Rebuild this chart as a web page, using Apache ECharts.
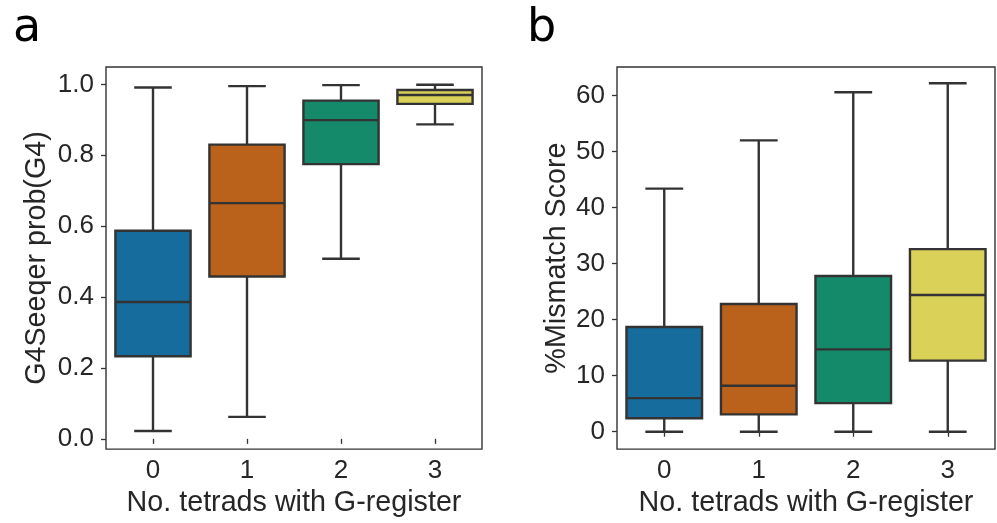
<!DOCTYPE html>
<html>
<head>
<meta charset="utf-8">
<script src="https://cdn.jsdelivr.net/npm/echarts@6/dist/echarts.min.js"></script>
<style>
  html, body { margin: 0; padding: 0; background: #fff; }
  #main { width: 997px; height: 523px; }
</style>
</head>
<body>
<div id="main"></div>
<script>
// categories and box stats: [min, Q1, median, Q3, max]
var categories = ['0', '1', '2', '3'];
var probStats = [
  [0.022, 0.233, 0.386, 0.587, 0.991],
  [0.062, 0.458, 0.665, 0.830, 0.995],
  [0.508, 0.775, 0.899, 0.954, 0.998],
  [0.887, 0.945, 0.970, 0.984, 0.999]
];
var mismatchStats = [
  [0, 2.4, 6.0, 18.7, 43.4],
  [0, 3.1, 8.2, 22.8, 52.0],
  [0, 5.1, 14.7, 27.8, 60.6],
  [0, 12.7, 24.4, 32.6, 62.2]
];
var probTicks = [0, 0.2, 0.4, 0.6, 0.8, 1.0];
var mismatchTicks = [0, 10, 20, 30, 40, 50, 60];
var boxColors = ['#166c9c', '#ba611b', '#148a6a', '#dad158'];

var lineColor = '#333333';
var textColor = '#262626';
var fontFam = 'Liberation Sans, Arial, sans-serif';

/**
 * 箱线图：盒子+须+帽，用坐标系换算
 */
function renderBox(params, api) {
  var idx = api.value(0);
  var pMin = api.coord([idx, api.value(1)]);
  var pQ1 = api.coord([idx, api.value(2)]);
  var pMed = api.coord([idx, api.value(3)]);
  var pQ3 = api.coord([idx, api.value(4)]);
  var pMax = api.coord([idx, api.value(5)]);
  var band = api.size([1, 0])[0];
  var half = band * 0.4;
  var cap = band * 0.2;
  var x = pMed[0];
  var st = { stroke: lineColor, lineWidth: 2.4, fill: null };
  return {
    type: 'group',
    children: [
      { type: 'line', shape: { x1: x, y1: pQ1[1], x2: x, y2: pMin[1] }, style: st },
      { type: 'line', shape: { x1: x, y1: pQ3[1], x2: x, y2: pMax[1] }, style: st },
      { type: 'line', shape: { x1: x - cap, y1: pMin[1], x2: x + cap, y2: pMin[1] }, style: st },
      { type: 'line', shape: { x1: x - cap, y1: pMax[1], x2: x + cap, y2: pMax[1] }, style: st },
      {
        type: 'rect',
        shape: { x: x - half, y: pQ3[1], width: half * 2, height: pQ1[1] - pQ3[1] },
        style: { fill: boxColors[params.dataIndex], stroke: lineColor, lineWidth: 2.4 }
      },
      { type: 'line', shape: { x1: x - half, y1: pMed[1], x2: x + half, y2: pMed[1] }, style: st }
    ]
  };
}

function toRows(stats) {
  return stats.map(function (s, i) {
    return [i, s[0], s[1], s[2], s[3], s[4]];
  });
}

function xAxisFor(gridIndex) {
  return {
    type: 'category',
    gridIndex: gridIndex,
    data: categories,
    boundaryGap: true,
    name: 'No. tetrads with G-register',
    nameLocation: 'middle',
    nameGap: 38,
    nameTextStyle: { fontSize: 28.7, color: textColor, fontFamily: fontFam },
    axisLine: { show: false },
    axisTick: { show: true, alignWithLabel: true, length: 5, lineStyle: { color: lineColor, width: 1.3 } },
    axisLabel: { fontSize: 26, color: textColor, fontFamily: fontFam, margin: 9 },
    splitLine: { show: false }
  };
}

function yAxisFor(gridIndex, min, max, ticks, name, gap, fmt) {
  return {
    type: 'value',
    gridIndex: gridIndex,
    min: min,
    max: max,
    name: name,
    nameLocation: 'middle',
    nameGap: gap,
    nameTextStyle: { fontSize: 28.7, color: textColor, fontFamily: fontFam },
    axisLine: { show: false },
    axisTick: { show: true, length: 5, customValues: ticks, lineStyle: { color: lineColor, width: 1.3 } },
    axisLabel: { fontSize: 26, color: textColor, fontFamily: fontFam, margin: 12, customValues: ticks, formatter: fmt },
    splitLine: { show: false }
  };
}

var chart = echarts.init(document.getElementById('main'));
var option = {
  animation: false,
  backgroundColor: '#ffffff',
  title: [
    { text: 'a', left: 8, top: 1, textStyle: { fontSize: 46, fontWeight: 'normal', color: '#000', fontFamily: 'DejaVu Sans' } },
    { text: 'b', left: 522, top: 1, textStyle: { fontSize: 46, fontWeight: 'normal', color: '#000', fontFamily: 'DejaVu Sans' } }
  ],
  grid: [
    { left: 106, top: 67, width: 376, height: 384, show: true, borderColor: lineColor, borderWidth: 1.4, backgroundColor: 'transparent' },
    { left: 617, top: 67, width: 378, height: 384, show: true, borderColor: lineColor, borderWidth: 1.4, backgroundColor: 'transparent' }
  ],
  xAxis: [xAxisFor(0), xAxisFor(1)],
  yAxis: [
    yAxisFor(0, -0.029, 1.049, probTicks, 'G4Seeqer prob(G4)', 54, function (v) { return v.toFixed(1); }),
    yAxisFor(1, -3.1, 65.1, mismatchTicks, '%Mismatch Score', 45, function (v) { return String(v); })
  ],
  series: [
    {
      type: 'custom',
      xAxisIndex: 0,
      yAxisIndex: 0,
      renderItem: renderBox,
      encode: { x: 0, y: [1, 2, 3, 4, 5] },
      data: toRows(probStats)
    },
    {
      type: 'custom',
      xAxisIndex: 1,
      yAxisIndex: 1,
      renderItem: renderBox,
      encode: { x: 0, y: [1, 2, 3, 4, 5] },
      data: toRows(mismatchStats)
    }
  ]
};
chart.setOption(option, true);
</script>
</body>
</html>
